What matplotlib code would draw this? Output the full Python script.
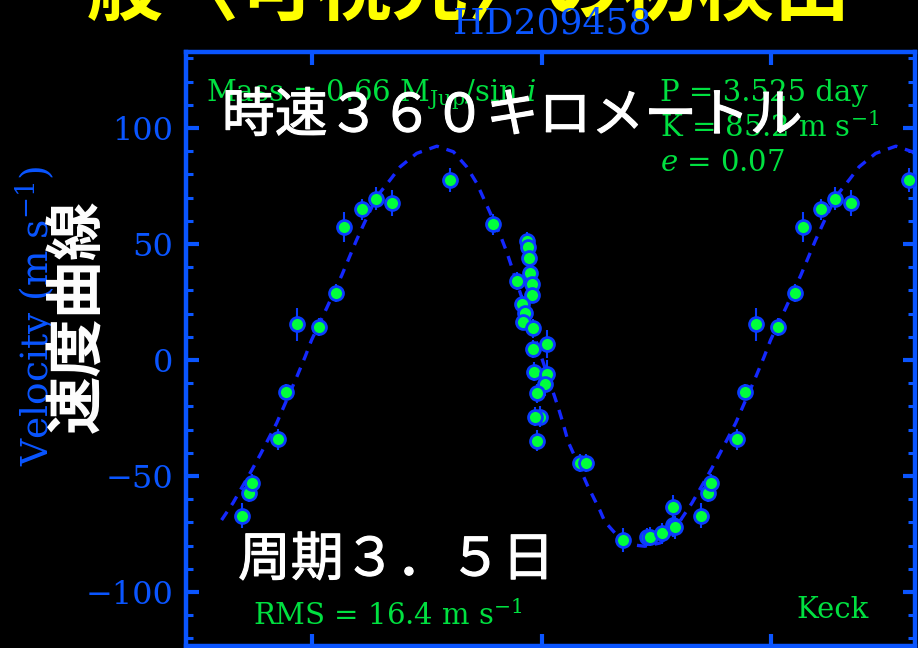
import numpy as np
import matplotlib
matplotlib.use("Agg")
import matplotlib.pyplot as plt
import matplotlib.patheffects as pe
from matplotlib.ticker import MultipleLocator

plt.rcParams['mathtext.fontset'] = 'dejavuserif'

W, H = 918, 648
jp = ['Noto Sans CJK JP', 'DejaVu Sans']
blue = '#0a55ff'
green = '#00e040'

# HD209458 radial velocities folded on P = 3.525 d (phase, m/s, error)
phase = [-0.152, -0.137, -0.131, -0.075, -0.057, -0.033, 0.015, 0.052, 0.069, 0.110,
         0.139, 0.174, 0.301, 0.395, 0.469, 0.471, 0.473, 0.476, 0.446, 0.479,
         0.479, 0.458, 0.464, 0.460, 0.481, 0.513, 0.482, 0.484, 0.513, 0.508,
         0.490, 0.497, 0.486, 0.490, 0.584, 0.597, 0.678, 0.729, 0.736, 0.762,
         0.786, 0.786, 0.791]
vel = [-67.2, -57.2, -53.1, -34.2, -13.7, 15.4, 14.2, 28.9, 57.2, 65.0,
       69.5, 67.8, 77.6, 58.6, 51.4, 48.8, 43.8, 37.6, 34.1, 32.8,
       28.0, 24.1, 20.1, 16.5, 13.7, 6.9, 4.7, -5.0, -6.0, -10.3,
       -14.4, -24.4, -24.4, -34.8, -44.4, -44.4, -77.6, -76.4, -76.2, -74.7,
       -63.2, -71.1, -72.1]
err = [5.4, 4.0, 4.0, 4.5, 3.5, 7.0, 4.0, 4.0, 6.5, 4.5,
       5.0, 5.5, 5.0, 4.5, 4.0, 3.5, 3.5, 3.5, 4.0, 3.5,
       3.5, 4.0, 3.5, 3.5, 4.0, 6.0, 4.0, 4.0, 6.0, 5.0,
       4.0, 4.5, 4.0, 4.5, 4.0, 4.0, 5.0, 4.0, 4.0, 4.5,
       5.0, 5.0, 5.0]

# orbit fit, one cycle
fit_phase = [-0.197, -0.172, -0.131, -0.113, -0.077, -0.033, -0.015, -0.001, 0.032, 0.065,
             0.097, 0.112, 0.141, 0.170, 0.192, 0.228, 0.272, 0.308, 0.337, 0.359,
             0.410, 0.424, 0.435, 0.486, 0.537, 0.548, 0.558, 0.573, 0.600, 0.627,
             0.638, 0.660, 0.699, 0.725, 0.758, 0.780, 0.803]
fit_vel = [-69.0, -61.6, -47.4, -40.9, -27.2, -7.2, 1.4, 8.6, 22.4, 36.6,
           51.7, 58.2, 70.4, 77.6, 83.3, 89.1, 92.2, 89.8, 83.3, 76.2,
           53.9, 46.7, 40.2, 9.5, -20.8, -28.0, -35.2, -41.8, -54.0, -64.7,
           -69.7, -74.6, -79.7, -80.3, -78.9, -75.5, -69.0]

yticks = [-100, -50, 0, 50, 100]


def fx(x):
    return x / W


def fy(y):
    return 1 - y / H


fig = plt.figure(figsize=(W / 100, H / 100), dpi=100, facecolor='black')
ax = fig.add_axes([fx(186), fy(646), fx(915) - fx(186), fy(52) - fy(646)])
ax.set_facecolor('black')

ph = np.array(phase)
fp = np.array(fit_phase)
ax.plot(np.concatenate([fp, fp + 1]), fit_vel + fit_vel, color='#1428ff',
        lw=2.4, ls=(0, (3, 2.4)), zorder=2)
for shift in (0, 1):
    ax.errorbar(ph + shift, vel, yerr=err, fmt='o', ms=10, mfc='#00ff3c', mec='#0a3cff',
                mew=2.0, ecolor='#0a3cff', elinewidth=1.5, capsize=0, zorder=3)

ax.set_xlim(-0.2745, 1.3137)
ax.set_ylim(-123.3, 132.8)
ax.xaxis.set_major_locator(MultipleLocator(0.5))
ax.set_yticks(yticks)
ax.yaxis.set_minor_locator(MultipleLocator(10))
ax.tick_params(which='both', direction='in', color=blue, top=True, right=True,
               labelbottom=False, labelcolor=blue, labelsize=23, pad=9)
ax.tick_params(which='major', length=9, width=3)
ax.tick_params(which='minor', length=5, width=2.2)
for lab in ax.get_yticklabels():
    lab.set_family('DejaVu Serif')
for s in ax.spines.values():
    s.set_color(blue)
    s.set_linewidth(3.2)

# labels in the plot frame
serif = dict(family='DejaVu Serif', color=green, fontsize=21)
fig.text(fx(206), fy(101), r'Mass = 0.66 M$_{\rm Jup}$/sin $i$', **serif)
fig.text(fx(660), fy(101), 'P = 3.525 day', **serif)
fig.text(fx(660), fy(137), r'K = 85.2 m s$^{-1}$', **serif)
fig.text(fx(660), fy(171), r'$e$ = 0.07', **serif)
fig.text(fx(253), fy(625), r'RMS = 16.4 m s$^{-1}$', **serif)
fig.text(fx(796), fy(618), 'Keck', **serif)

fig.text(fx(552), fy(24), 'HD209458', family='DejaVu Serif', color=blue,
         fontsize=26, ha='center', va='center', zorder=6)
fig.text(fx(36), fy(316), r'Velocity (m s$^{-1}$)', family='DejaVu Serif',
         color=blue, fontsize=27, rotation=90, ha='center', va='center')

# Japanese captions, white ones slightly thickened
thick = [pe.withStroke(linewidth=0.8, foreground='white')]
fig.text(fx(10), fy(14), '一般〈可視光〉の初検出', family=jp, color='#ffff00',
         fontsize=55, fontweight='bold', va='baseline', zorder=5)
fig.text(fx(222), fy(116), '時速３６０キロメートル', family=jp, color='white',
         fontsize=38, va='center', zorder=7, path_effects=thick)
fig.text(fx(238), fy(560), '周期３．５日', family=jp, color='white',
         fontsize=38, va='center', zorder=7, path_effects=thick)
fig.text(fx(78), fy(316), '速度曲線', family=jp, color='white', fontsize=42,
         fontweight='bold', rotation=90, ha='center', va='center', zorder=7)

fig.savefig('out.png', dpi=100, facecolor='black')
